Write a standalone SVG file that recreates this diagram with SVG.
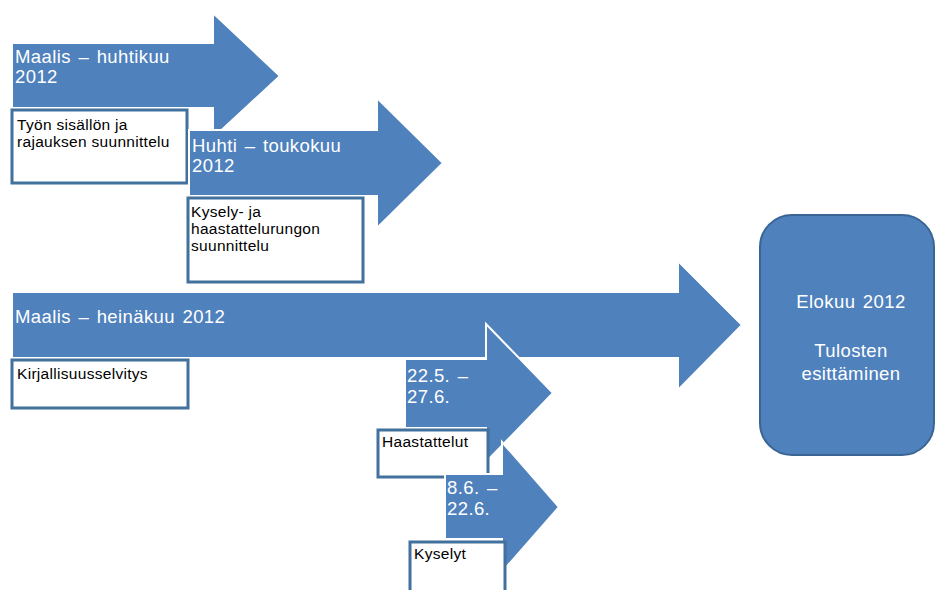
<svg xmlns="http://www.w3.org/2000/svg" width="935" height="590" viewBox="0 0 935 590">
<style>
.arrow{fill:#4F81BD;stroke:#FFFFFF;stroke-width:2;stroke-linejoin:miter}
.box{fill:#FFFFFF;stroke:#41719C;stroke-width:3}
.lbl{font-family:"Liberation Sans",Arial,sans-serif;font-size:18.5px;letter-spacing:0.4px;word-spacing:2px;fill:#FFFFFF}
.txt{font-family:"Liberation Sans",Arial,sans-serif;font-size:15.5px;letter-spacing:0.3px;fill:#000000}
.end{fill:#4F81BD;stroke:#3A6594;stroke-width:2}
</style>
<rect width="935" height="590" fill="#FFFFFF"/>
<g id="n1">
<polygon class="arrow" points="12,43 213,43 213,13 280,76 213,138 213,108 12,108"/>
<text class="lbl" x="15" y="63">Maalis – huhtikuu</text>
<text class="lbl" x="15" y="83">2012</text>
<rect class="box" x="12" y="110" width="175" height="73"/>
<text class="txt" x="17" y="130">Työn sisällön ja</text>
<text class="txt" x="17" y="147">rajauksen suunnittelu</text>
</g>
<g id="n2">
<polygon class="arrow" points="189,130 377,130 377,98 443,163 377,228 377,196 189,196"/>
<text class="lbl" x="192" y="152">Huhti – toukokuu</text>
<text class="lbl" x="192" y="172">2012</text>
<rect class="box" x="188" y="198" width="175" height="84"/>
<text class="txt" x="191" y="217">Kysely- ja</text>
<text class="txt" x="191" y="234">haastattelurungon</text>
<text class="txt" x="191" y="251">suunnittelu</text>
</g>
<g id="n3">
<polygon class="arrow" points="12,292 678,292 678,261 742,325 678,390 678,358 12,358"/>
<text class="lbl" x="15" y="323">Maalis – heinäkuu 2012</text>
<rect class="box" x="12" y="360" width="176" height="48"/>
<text class="txt" x="17" y="379">Kirjallisuusselvitys</text>
</g>
<g id="n4">
<polygon class="arrow" points="405,359 486,359 486,324 553,393 486,462 486,428 405,428"/>
<text class="lbl" x="407" y="382">22.5. –</text>
<text class="lbl" x="407" y="403">27.6.</text>
<rect class="box" x="378" y="430" width="110" height="47"/>
<text class="txt" x="382" y="447">Haastattelut</text>
</g>
<g id="n5">
<polygon class="arrow" points="445,474 502,474 502,442 559,507 502,572 502,539 445,539"/>
<text class="lbl" x="447" y="494">8.6. –</text>
<text class="lbl" x="447" y="515">22.6.</text>
<rect class="box" x="410" y="542" width="95" height="52"/>
<text class="txt" x="414" y="559">Kyselyt</text>
</g>
<g id="n6">
<rect class="end" x="760" y="215" width="174" height="240" rx="32" ry="32"/>
<text class="lbl" x="851" y="308" text-anchor="middle">Elokuu 2012</text>
<text class="lbl" x="851" y="357" text-anchor="middle">Tulosten</text>
<text class="lbl" x="851" y="380" text-anchor="middle">esittäminen</text>
</g>
<g id="connectors"></g>
</svg>
